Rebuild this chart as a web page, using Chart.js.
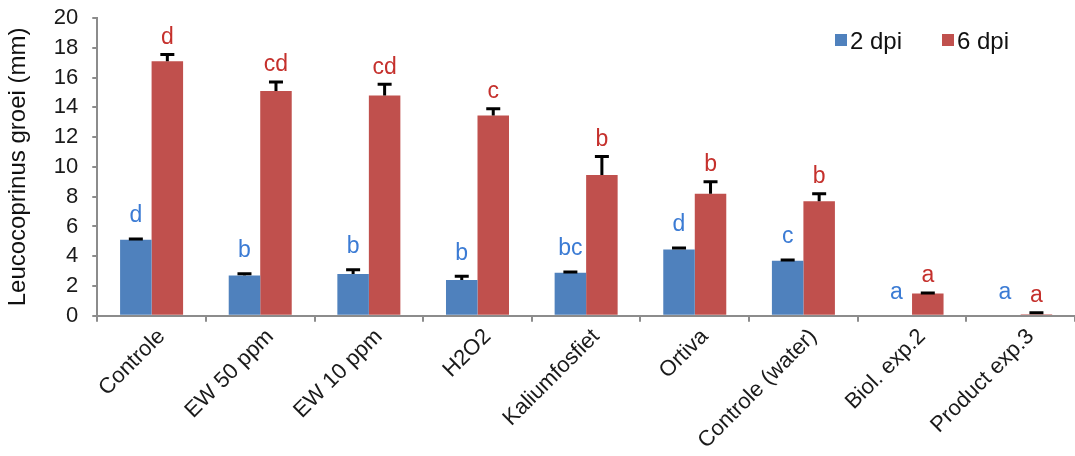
<!DOCTYPE html>
<html>
<head>
<meta charset="utf-8">
<script src="https://cdn.jsdelivr.net/npm/chart.js@4.4.1/dist/chart.umd.min.js"></script>
<style>
  html, body { margin: 0; padding: 0; background: #fff; }
  #wrap { width: 1075px; height: 456px; }
</style>
</head>
<body>
<div id="wrap"><canvas id="myChart"></canvas></div>
<script>
const categories = ["Controle", "EW 50 ppm", "EW 10 ppm", "H2O2", "Kaliumfosfiet", "Ortiva", "Controle (water)", "Biol. exp.2", "Product exp.3"]
const seriesNames = ["2 dpi", "6 dpi"]

const dpi2 = [5.1, 2.7, 2.8, 2.4, 2.9, 4.45, 3.7, 0, 0]
const dpi2Err = [0.05, 0.12, 0.3, 0.25, 0.05, 0.1, 0.05, 0, 0]
const dpi2Letters = ["d", "b", "b", "b", "bc", "d", "c", "a", "a"]

const dpi6 = [17.1, 15.1, 14.8, 13.45, 9.45, 8.2, 7.7, 1.5, 0.1]
const dpi6Err = [0.45, 0.6, 0.75, 0.45, 1.25, 0.8, 0.5, 0.03, 0.1]
const dpi6Letters = ["d", "cd", "cd", "c", "b", "b", "b", "a", "a"]

const yTicks = [0, 2, 4, 6, 8, 10, 12, 14, 16, 18, 20]

const FONT = "'Liberation Sans', Arial, sans-serif"

// error bars (upper only) + significance letters
const errorPlugin = {
    id: "errorBars",
    afterDatasetsDraw(chart) {
        const ctx = chart.ctx
        const y = chart.scales.y
        chart.data.datasets.forEach((ds, di) => {
            const meta = chart.getDatasetMeta(di)
            meta.data.forEach((bar, i) => {
                const v = ds.data[i]
                const e = ds.errors[i]
                const top = y.getPixelForValue(v + e)
                if (v > 0) {
                    ctx.save()
                    ctx.strokeStyle = "#000"
                    ctx.lineWidth = 3
                    ctx.beginPath()
                    ctx.moveTo(bar.x, y.getPixelForValue(v))
                    ctx.lineTo(bar.x, top)
                    ctx.moveTo(bar.x - 7, top)
                    ctx.lineTo(bar.x + 7, top)
                    ctx.stroke()
                    ctx.restore()
                }
                ctx.save()
                ctx.fillStyle = ds.letterColor
                ctx.font = "23px " + FONT
                ctx.textAlign = "center"
                ctx.textBaseline = "middle"
                ctx.fillText(ds.letters[i], bar.x, top - ds.letterGap)
                ctx.restore()
            })
        })
    }
}

const legendPlugin = {
    id: "boxLegend",
    afterDraw(chart) {
        const ctx = chart.ctx
        const area = chart.chartArea
        const starts = [area.right - 240, area.right - 133]
        ctx.save()
        ctx.font = "24px " + FONT
        ctx.textBaseline = "middle"
        chart.data.datasets.forEach((ds, di) => {
            const x = starts[di]
            ctx.fillStyle = ds.backgroundColor
            ctx.fillRect(x, 34, 12, 12)
            ctx.fillStyle = "#111"
            ctx.fillText(ds.label, x + 15, 42)
        })
        ctx.restore()
    }
}

function createChart() {
    const chartEl = document.getElementById("myChart")
    new Chart(chartEl, {
        type: "bar",
        data: {
            labels: categories,
            datasets: [
                {
                    label: seriesNames[0],
                    data: dpi2,
                    errors: dpi2Err,
                    letters: dpi2Letters,
                    letterColor: "#3b7bd4",
                    letterGap: 23,
                    backgroundColor: "#4f81bd",
                    borderWidth: 0,
                    categoryPercentage: 0.58,
                    barPercentage: 1.0,
                },
                {
                    label: seriesNames[1],
                    data: dpi6,
                    errors: dpi6Err,
                    letters: dpi6Letters,
                    letterColor: "#c5302c",
                    letterGap: 17,
                    backgroundColor: "#c0504d",
                    borderWidth: 0,
                    categoryPercentage: 0.58,
                    barPercentage: 1.0,
                },
            ]
        },
        options: {
            responsive: true,
            maintainAspectRatio: false,
            animation: false,
            layout: { padding: { left: 4, top: 0, right: 0, bottom: 0 } },
            scales: {
                x: {
                    offset: true,
                    grid: {
                        display: true,
                        offset: true,
                        drawOnChartArea: false,
                        drawTicks: true,
                        tickLength: 6,
                        color: "#8c8c8c",
                        lineWidth: 2,
                    },
                    border: { display: true, color: "#8c8c8c", width: 2 },
                    ticks: {
                        autoSkip: false,
                        maxRotation: 45,
                        minRotation: 45,
                        padding: 2,
                        labelOffset: 10,
                        color: "#1a1a1a",
                        font: { size: 22, family: FONT },
                    }
                },
                y: {
                    min: 0,
                    max: 20,
                    afterBuildTicks(scale) {
                        scale.ticks = yTicks.map(v => ({ value: v }))
                    },
                    afterFit(scale) {
                        scale.paddingTop = 18
                    },
                    grid: {
                        display: true,
                        drawOnChartArea: false,
                        drawTicks: true,
                        tickLength: 5,
                        color: "#8c8c8c",
                        lineWidth: 2,
                    },
                    border: { display: true, color: "#8c8c8c", width: 2 },
                    title: {
                        display: true,
                        text: "Leucocoprinus groei (mm)",
                        color: "#111",
                        font: { size: 24, family: FONT },
                        padding: { top: 0, bottom: 7 },
                    },
                    ticks: {
                        autoSkip: false,
                        padding: 14,
                        color: "#1a1a1a",
                        font: { size: 22, family: FONT },
                    }
                }
            },
            plugins: {
                legend: { display: false },
                tooltip: { enabled: false },
            }
        },
        plugins: [errorPlugin, legendPlugin]
    })
}

createChart()
</script>
</body>
</html>
